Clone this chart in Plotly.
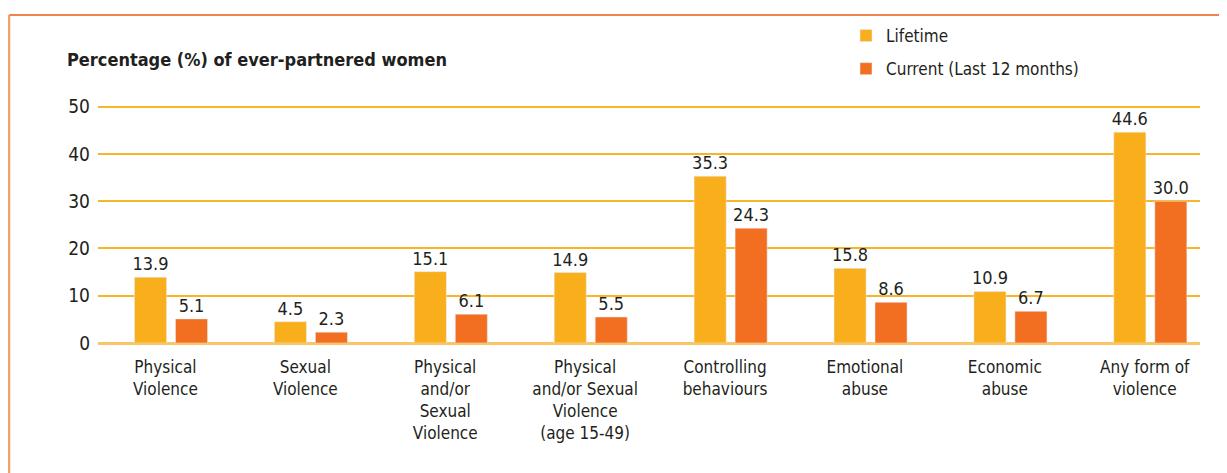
import plotly.graph_objects as go

categories = ["Physical<br>Violence", "Sexual<br>Violence", "Physical<br>and/or<br>Sexual<br>Violence",
              "Physical<br>and/or Sexual<br>Violence<br>(age 15-49)", "Controlling<br>behaviours",
              "Emotional<br>abuse", "Economic<br>abuse", "Any form of<br>violence"]
lifetime = [13.9, 4.5, 15.1, 14.9, 35.3, 15.8, 10.9, 44.6]
current = [5.1, 2.3, 6.1, 5.5, 24.3, 8.6, 6.7, 30.0]
series_names = ["Lifetime", "Current (Last 12 months)"]
y_ticks = [0, 10, 20, 30, 40, 50]

C_LIFE = "#F9AE1B"
C_CUR = "#F26F22"
FONT = "DejaVu Sans Condensed, Liberation Sans Narrow, Arial Narrow, sans-serif"
TXT = "#231F20"

# page body has an 8px margin; coordinates below are in figure space
W, H = 1219, 465
L, R, T, B = 90, 1192, 94, 335
pw, ph = R - L, B - T

def px(x):
    return (x - L) / pw

def py(y):
    return (B - y) / ph

xs = list(range(len(categories)))
bw = 0.229

fig = go.Figure()
fig.add_trace(go.Bar(
    x=xs, y=lifetime, name=series_names[0], marker_color=C_LIFE, width=bw, offset=-0.261,
    text=[f"{v:.1f}" for v in lifetime], textposition="outside", cliponaxis=False, legendgroup="a",
    constraintext="none", textfont=dict(family=FONT, size=18, color=TXT),
))
fig.add_trace(go.Bar(
    x=xs, y=current, name=series_names[1], marker_color=C_CUR, width=bw, offset=0.032,
    text=[f"{v:.1f}" for v in current], textposition="outside", cliponaxis=False, legendgroup="b",
    constraintext="none", textfont=dict(family=FONT, size=18, color=TXT),
))

fig.update_layout(
    width=W, height=H,
    margin=dict(l=L, r=W - R, t=T, b=H - B, autoexpand=False),
    paper_bgcolor="white", plot_bgcolor="white",
    barmode="overlay",
    font=dict(family=FONT, size=17, color=TXT),
    showlegend=True,
    legend=dict(x=px(838), y=py(10), xanchor="left", yanchor="top",
                font=dict(family=FONT, size=17, color=TXT),
                bgcolor="rgba(0,0,0,0)", tracegroupgap=8, itemwidth=30),
    xaxis=dict(range=[-0.522, 7.355], tickvals=[x - 0.04 for x in xs], ticktext=categories,
               showgrid=False, zeroline=False, showline=False, ticks="", automargin=False,
               ticklabelstandoff=12,
               tickfont=dict(family=FONT, size=17, color=TXT)),
    yaxis=dict(range=[0, 51], tickvals=y_ticks, showgrid=True, gridcolor="#F9B52A", gridwidth=1.5,
               zeroline=True, zerolinecolor="#FAC566", zerolinewidth=2.5, showline=False,
               ticks="", ticklabelstandoff=7, automargin=False,
               tickfont=dict(family=FONT, size=19, color=TXT)),
)

fig.add_annotation(text="<b>Percentage (%) of ever-partnered women</b>", xref="paper", yref="paper",
                   x=px(57), y=py(52), xanchor="left", yanchor="middle", showarrow=False,
                   font=dict(family=FONT, size=18, color=TXT))

# frame lines
fig.add_shape(type="line", xref="paper", yref="paper", x0=px(1), x1=px(1230), y0=py(7), y1=py(7),
              line=dict(color="#F0854A", width=2))
fig.add_shape(type="line", xref="paper", yref="paper", x0=px(1), x1=px(1), y0=py(7), y1=py(480),
              line=dict(color="#F4A06A", width=2.5))

fig.write_html("out.html")
